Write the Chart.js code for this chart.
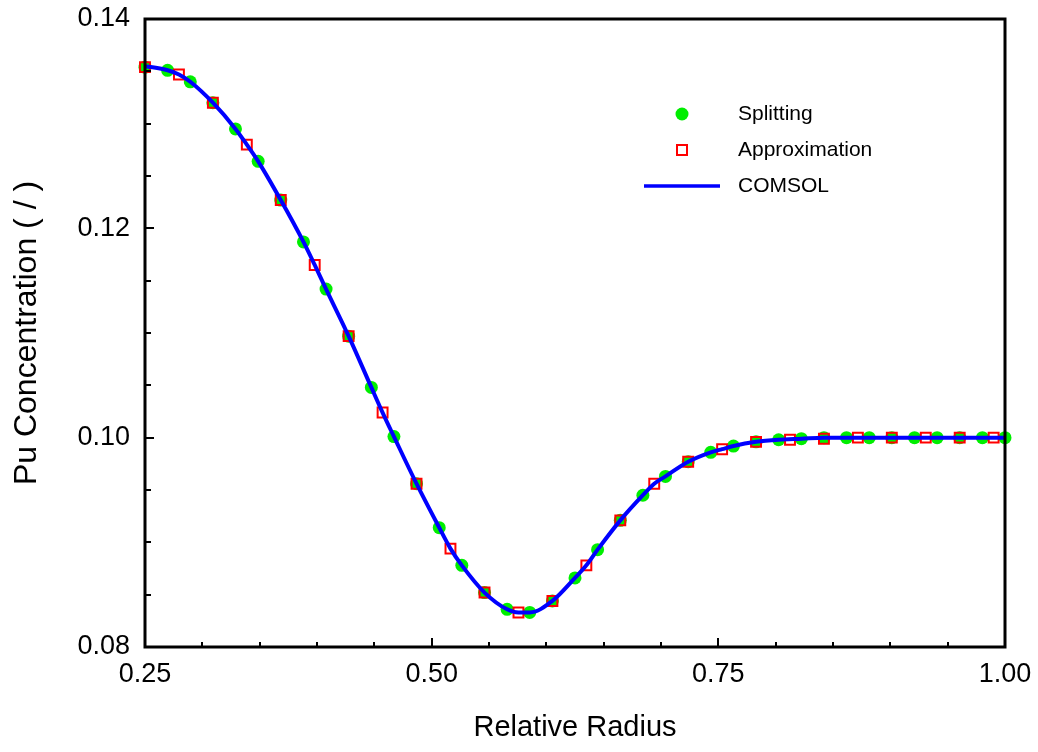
<!DOCTYPE html>
<html>
<head>
<meta charset="utf-8">
<script src="https://cdn.jsdelivr.net/npm/chart.js@4.4.0/dist/chart.umd.min.js"></script>
<style>
    html, body { margin: 0; padding: 0; background: #fff; }
    #wrap { width: 1038px; height: 752px; }
</style>
</head>
<body>
<div id="wrap"><canvas id="chartPu" width="1038" height="752"></canvas></div>
<script>
// values
const splitX = [0.2500, 0.2697, 0.2895, 0.3092, 0.3289, 0.3487, 0.3684, 0.3882, 0.4079, 0.4276,
    0.4474, 0.4671, 0.4868, 0.5066, 0.5263, 0.5461, 0.5658, 0.5855, 0.6053, 0.6250,
    0.6447, 0.6645, 0.6842, 0.7039, 0.7237, 0.7434, 0.7632, 0.7829, 0.8026, 0.8224,
    0.8421, 0.8618, 0.8816, 0.9013, 0.9211, 0.9408, 0.9605, 0.9803, 1.0000];
const splitY = [0.1354, 0.1351, 0.1340, 0.1320, 0.1295, 0.1264, 0.1227, 0.1187, 0.1142, 0.1097,
    0.1048, 0.1001, 0.0956, 0.0914, 0.0878, 0.0852, 0.0836, 0.0833, 0.0844, 0.0866,
    0.0893, 0.0921, 0.0945, 0.0963, 0.0977, 0.0986, 0.0992, 0.0996, 0.0998, 0.0999,
    0.1000, 0.1000, 0.1000, 0.1000, 0.1000, 0.1000, 0.1000, 0.1000, 0.1000];

const approxX = [0.2500, 0.2796, 0.3092, 0.3388, 0.3684, 0.3980, 0.4276, 0.4572, 0.4868, 0.5164,
    0.5461, 0.5757, 0.6053, 0.6349, 0.6645, 0.6941, 0.7237, 0.7533, 0.7829, 0.8125,
    0.8421, 0.8717, 0.9013, 0.9309, 0.9605, 0.9901];
const approxY = [0.1354, 0.1347, 0.1320, 0.1280, 0.1227, 0.1165, 0.1097, 0.1024, 0.0956, 0.0894,
    0.0852, 0.0833, 0.0844, 0.0878, 0.0921, 0.0956, 0.0977, 0.0989, 0.0996, 0.0998,
    0.0999, 0.1000, 0.1000, 0.1000, 0.1000, 0.1000];

const comsolX = [0.2500, 0.2697, 0.2796, 0.2895, 0.3092, 0.3289, 0.3388, 0.3487, 0.3684, 0.3882,
    0.3980, 0.4079, 0.4276, 0.4474, 0.4572, 0.4671, 0.4868, 0.5066, 0.5164, 0.5263,
    0.5461, 0.5658, 0.5757, 0.5855, 0.6053, 0.6250, 0.6349, 0.6447, 0.6645, 0.6842,
    0.6941, 0.7039, 0.7237, 0.7434, 0.7533, 0.7632, 0.7829, 0.8026, 0.8224, 0.8421, 1.0000];
const comsolY = [0.1355, 0.1351, 0.1347, 0.1340, 0.1320, 0.1295, 0.1280, 0.1264, 0.1227, 0.1187,
    0.1165, 0.1142, 0.1097, 0.1048, 0.1024, 0.1001, 0.0956, 0.0914, 0.0894, 0.0878,
    0.0852, 0.0836, 0.0833, 0.0833, 0.0844, 0.0866, 0.0878, 0.0893, 0.0921, 0.0945,
    0.0956, 0.0963, 0.0977, 0.0986, 0.0989, 0.0992, 0.0996, 0.0998, 0.0999, 0.1000, 0.1000];

const xTicks = [0.25, 0.50, 0.75, 1.00];
const yTicks = [0.08, 0.10, 0.12, 0.14];
const seriesNames = ["Splitting", "Approximation", "COMSOL"];

const FONT = "'Liberation Sans', Arial, sans-serif";
const GREEN = "#00ee00";
const RED = "#ff0000";
const BLUE = "#0000ff";

function toPoints(xs, ys) {
    return xs.map((x, i) => ({ x: x, y: ys[i] }));
}

// inward ticks + closed frame
const frameTicks = {
    id: "frameTicks",
    afterDraw(chart) {
        const { ctx, chartArea: a, scales: { x, y } } = chart;
        ctx.save();
        ctx.strokeStyle = "#000";
        ctx.lineWidth = 2;
        ctx.beginPath();
        for (let i = 0; i <= 15; i++) {
            const px = Math.round(x.getPixelForValue(0.25 + i * 0.05));
            const len = i % 5 === 0 ? 9 : 5;
            ctx.moveTo(px, a.bottom);
            ctx.lineTo(px, a.bottom - len);
        }
        for (let i = 0; i <= 12; i++) {
            const py = Math.round(y.getPixelForValue(0.08 + i * 0.005));
            const len = i % 4 === 0 ? 9 : 6;
            ctx.moveTo(a.left, py);
            ctx.lineTo(a.left + len, py);
        }
        ctx.stroke();
        ctx.lineWidth = 3;
        ctx.strokeRect(a.left, a.top, a.right - a.left, a.bottom - a.top);
        ctx.restore();
    }
};

// legend inside the plot, top right
const insideLegend = {
    id: "insideLegend",
    afterDraw(chart) {
        const { ctx, chartArea: a } = chart;
        const mx = a.left + 537;
        const tx = a.left + 593;
        const rows = [a.top + 95, a.top + 131, a.top + 167];
        ctx.save();
        ctx.fillStyle = GREEN;
        ctx.beginPath();
        ctx.arc(mx, rows[0], 6.5, 0, Math.PI * 2);
        ctx.fill();
        ctx.strokeStyle = RED;
        ctx.lineWidth = 2;
        ctx.strokeRect(mx - 5, rows[1] - 5, 10, 10);
        ctx.strokeStyle = BLUE;
        ctx.lineWidth = 3.5;
        ctx.beginPath();
        ctx.moveTo(mx - 38, rows[2]);
        ctx.lineTo(mx + 38, rows[2]);
        ctx.stroke();
        ctx.fillStyle = "#000";
        ctx.font = "21px " + FONT;
        ctx.textAlign = "left";
        ctx.textBaseline = "middle";
        seriesNames.forEach((name, i) => ctx.fillText(name, tx, rows[i]));
        ctx.restore();
    }
};

document.addEventListener("DOMContentLoaded", () => {
    const ctx = document.getElementById("chartPu");

    const data = {
        datasets: [
            {
                label: seriesNames[0],
                data: toPoints(splitX, splitY),
                showLine: false,
                pointStyle: "circle",
                pointRadius: 6.5,
                pointBackgroundColor: GREEN,
                pointBorderWidth: 0,
                clip: false,
                order: 2
            },
            {
                label: seriesNames[1],
                data: toPoints(approxX, approxY),
                showLine: false,
                pointStyle: "rect",
                pointRadius: 7,
                pointBackgroundColor: "rgba(0,0,0,0)",
                pointBorderColor: RED,
                pointBorderWidth: 2,
                clip: false,
                order: 1
            },
            {
                label: seriesNames[2],
                data: toPoints(comsolX, comsolY),
                showLine: true,
                borderColor: BLUE,
                borderWidth: 4,
                pointRadius: 0,
                cubicInterpolationMode: "monotone",
                fill: false,
                order: 0
            }
        ]
    };

    const options = {
        responsive: false,
        devicePixelRatio: 1,
        animation: false,
        layout: { padding: { top: 19, right: 33, left: 0, bottom: 0 } },
        plugins: {
            legend: { display: false },
            tooltip: { enabled: false }
        },
        scales: {
            x: {
                type: "linear",
                min: 0.25,
                max: 1.0,
                afterFit: s => {
                    s.height = 105;
                    s.paddingLeft = 0;
                    s.paddingRight = 0;
                },
                afterBuildTicks: s => { s.ticks = xTicks.map(v => ({ value: v })); },
                grid: { display: false, drawTicks: false },
                border: { display: false },
                ticks: {
                    color: "#000",
                    padding: 11,
                    maxRotation: 0,
                    font: { family: FONT, size: 27 },
                    callback: v => v.toFixed(2)
                },
                title: {
                    display: true,
                    text: "Relative Radius",
                    color: "#000",
                    font: { family: FONT, size: 29 },
                    padding: { top: 0, bottom: 7 }
                }
            },
            y: {
                type: "linear",
                min: 0.08,
                max: 0.14,
                afterFit: s => {
                    s.width = 145;
                    s.paddingTop = 0;
                    s.paddingBottom = 0;
                },
                afterBuildTicks: s => { s.ticks = yTicks.map(v => ({ value: v })); },
                grid: { display: false, drawTicks: false },
                border: { display: false },
                ticks: {
                    color: "#000",
                    padding: 15,
                    font: { family: FONT, size: 27 },
                    callback: v => v.toFixed(2)
                },
                title: {
                    display: true,
                    text: "Pu Concentration ( / )",
                    color: "#000",
                    font: { family: FONT, size: 32 },
                    padding: { top: 8, bottom: 0 }
                }
            }
        }
    };

    new Chart(ctx, {
        type: "scatter",
        data: data,
        options: options,
        plugins: [frameTicks, insideLegend]
    });
});
</script>
</body>
</html>
